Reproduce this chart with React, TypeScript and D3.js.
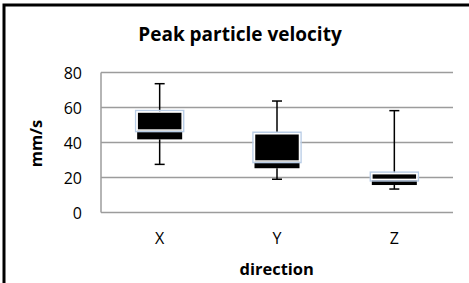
import React from "react";
import { scaleBand, scaleLinear } from "d3";

const directions = ["X", "Y", "Z"];
const maxValues = [73.6, 63.7, 58.2];
const q3Values = [57.4, 45.0, 22.2];
const medianValues = [47.1, 29.4, 18.9];
const q1Values = [41.8, 25.3, 15.7];
const minValues = [27.5, 19.0, 13.4];
const yTicks = [0, 20, 40, 60, 80];

const W = 469;
const H = 283;
const FONT = "'Open Sans', sans-serif";

export default function App() {
  const x = scaleBand().domain(directions).range([101, 453]);
  const y = scaleLinear().domain([0, 80]).range([212.5, 72.5]);
  const bw = 45;
  const cap = 10;

  return (
    <svg
      width={W}
      height={H}
      style={{ position: "absolute", left: 0, top: 0, background: "#fff" }}
    >
      <rect x={0} y={0} width={W} height={H} fill="#fff" />
      {/* outer chart frame, only left and top visible */}
      <rect x={4} y={5} width={W + 10} height={H + 10} fill="none" stroke="#000" strokeWidth={3} />

      <text x={240} y={40.5} textAnchor="middle" fontFamily={FONT} fontWeight="bold" fontSize={19}>
        Peak particle velocity
      </text>

      {/* gridlines */}
      {yTicks.map((t) => (
        <g key={t}>
          <line x1={101} x2={453} y1={y(t)} y2={y(t)} stroke="#9c9c9c" strokeWidth={1.5} />
          <text x={82} y={y(t) + 6} textAnchor="end" fontFamily={FONT} fontSize={16} fill="#000">
            {t}
          </text>
        </g>
      ))}
      <line x1={101} x2={101} y1={y(80)} y2={y(0)} stroke="#9c9c9c" strokeWidth={1.5} />

      {directions.map((d, i) => {
        const cx = (x(d) as number) + x.bandwidth() / 2;
        const left = cx - bw / 2;
        return (
          <g key={d}>
            {/* whiskers */}
            <line x1={cx} x2={cx} y1={y(maxValues[i])} y2={y(q3Values[i])} stroke="#000" strokeWidth={1.5} />
            <line x1={cx - cap / 2} x2={cx + cap / 2} y1={y(maxValues[i])} y2={y(maxValues[i])} stroke="#000" strokeWidth={1.5} />
            <line x1={cx} x2={cx} y1={y(q1Values[i])} y2={y(minValues[i])} stroke="#000" strokeWidth={1.5} />
            <line x1={cx - cap / 2} x2={cx + cap / 2} y1={y(minValues[i])} y2={y(minValues[i])} stroke="#000" strokeWidth={1.5} />
            {/* lower box */}
            <rect
              x={left}
              y={y(medianValues[i])}
              width={bw}
              height={y(q1Values[i]) - y(medianValues[i])}
              fill="#000"
            />
            {/* upper box */}
            <rect
              x={left - 1.5}
              y={y(q3Values[i]) - 1.5}
              width={bw + 3}
              height={y(medianValues[i]) - y(q3Values[i]) + 3}
              fill="none"
              stroke="#b9cde6"
              strokeWidth={1.5}
            />
            <rect
              x={left}
              y={y(q3Values[i])}
              width={bw}
              height={y(medianValues[i]) - y(q3Values[i])}
              fill="#000"
              stroke="#fff"
              strokeWidth={1.5}
            />
            <text x={cx} y={244} textAnchor="middle" fontFamily={FONT} fontSize={16}>
              {d}
            </text>
          </g>
        );
      })}

      <text x={276.7} y={274.5} textAnchor="middle" fontFamily={FONT} fontWeight="bold" fontSize={16.5}>
        direction
      </text>
      <text
        transform={`translate(42,${y(40) + 1}) rotate(-90)`}
        textAnchor="middle"
        fontFamily={FONT}
        fontWeight="bold"
        fontSize={16.5}
      >
        mm/s
      </text>
    </svg>
  );
}
